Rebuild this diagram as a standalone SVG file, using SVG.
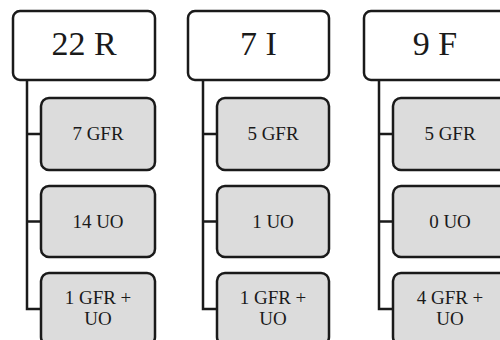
<svg xmlns="http://www.w3.org/2000/svg" width="500" height="340" viewBox="0 0 500 340">
<style>
.top{fill:#ffffff;stroke:#1a1a1a;stroke-width:2.5}
.child{fill:#dcdcdc;stroke:#1a1a1a;stroke-width:2.5}
text{font-family:'Liberation Serif',Tinos,'Times New Roman',Times,serif;fill:#1a1a1a;text-anchor:middle}
.big{font-size:34px}
.small{font-size:19px}
.conn{fill:none;stroke:#1a1a1a;stroke-width:2.5}
</style>
<g id="connectors">
<path class="conn" d="M27 80 V309 H41 M27 134 H41 M27 221.5 H41"/>
<path class="conn" d="M203 80 V309 H217 M203 134 H217 M203 221.5 H217"/>
<path class="conn" d="M379 80 V309 H393 M379 134 H393 M379 221.5 H393"/>
</g>
<g id="n22R"><rect class="top" x="13" y="11" width="142" height="69" rx="7"/><text class="big" x="84" y="55" font-family="Liberation Serif">22 R</text></g>
<g id="n7GFR"><rect class="child" x="41" y="98" width="114" height="72" rx="8"/><text class="small" x="98" y="140">7 GFR</text></g>
<g id="n14UO"><rect class="child" x="41" y="186" width="114" height="71" rx="8"/><text class="small" x="98" y="228">14 UO</text></g>
<g id="n1GFRUO"><rect class="child" x="41" y="273" width="114" height="72" rx="8"/><text class="small" x="98" y="304">1 GFR +</text><text class="small" x="98" y="325">UO</text></g>
<g id="n7I"><rect class="top" x="188" y="11" width="141" height="69" rx="7"/><text class="big" x="258.5" y="55">7 I</text></g>
<g id="n5GFR"><rect class="child" x="217" y="98" width="112" height="72" rx="8"/><text class="small" x="273" y="140">5 GFR</text></g>
<g id="n1UO"><rect class="child" x="217" y="186" width="112" height="71" rx="8"/><text class="small" x="273" y="228">1 UO</text></g>
<g id="n1GFRUO2"><rect class="child" x="217" y="273" width="112" height="72" rx="8"/><text class="small" x="273" y="304">1 GFR +</text><text class="small" x="273" y="325">UO</text></g>
<g id="n9F"><rect class="top" x="364" y="11" width="142" height="69" rx="7"/><text class="big" x="435" y="55">9 F</text></g>
<g id="n5GFR3"><rect class="child" x="393" y="98" width="114" height="72" rx="8"/><text class="small" x="450" y="140">5 GFR</text></g>
<g id="n0UO"><rect class="child" x="393" y="186" width="114" height="71" rx="8"/><text class="small" x="450" y="228">0 UO</text></g>
<g id="n4GFRUO"><rect class="child" x="393" y="273" width="114" height="72" rx="8"/><text class="small" x="450" y="304">4 GFR +</text><text class="small" x="450" y="325">UO</text></g>
</svg>
